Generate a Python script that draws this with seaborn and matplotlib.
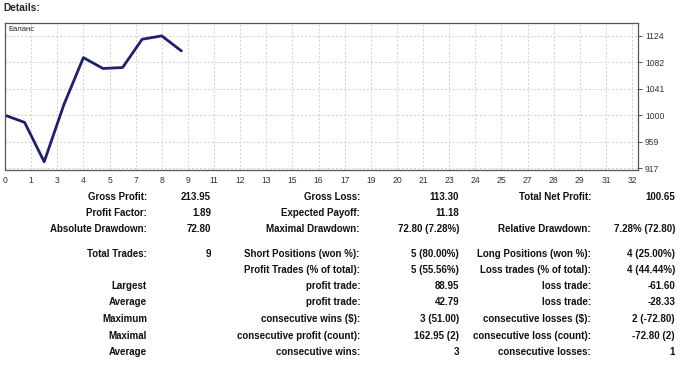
import numpy as np
import pandas as pd
import matplotlib
matplotlib.use('Agg')
import matplotlib.pyplot as plt
import seaborn as sns

# balance curve (trade number -> balance)
trades = [0, 1, 2, 3, 4, 5, 6, 7, 8, 9]
balance = [1000.00, 988.80, 927.20, 1016.15, 1090.15, 1073.15, 1074.65, 1118.95, 1124.15, 1100.65]

x_tick_labels = ['0', '1', '3', '4', '5', '7', '8', '9', '11', '12', '13', '15', '16',
                 '17', '19', '20', '21', '23', '24', '25', '27', '28', '29', '31', '32']
y_tick_labels = ['917', '959', '1000', '1041', '1082', '1124']

# report table: (label, value) for three column groups, row by row
col1_labels = ['Gross Profit:', 'Profit Factor:', 'Absolute Drawdown:', 'Total Trades:', '',
               'Largest', 'Average', 'Maximum', 'Maximal', 'Average']
col1_values = ['213.95', '1.89', '72.80', '9', '', '', '', '', '', '']
col2_labels = ['Gross Loss:', 'Expected Payoff:', 'Maximal Drawdown:', 'Short Positions (won %):',
               'Profit Trades (% of total):', 'profit trade:', 'profit trade:',
               'consecutive wins ($):', 'consecutive profit (count):', 'consecutive wins:']
col2_values = ['113.30', '11.18', '72.80 (7.28%)', '5 (80.00%)', '5 (55.56%)', '88.95', '42.79',
               '3 (51.00)', '162.95 (2)', '3']
col3_labels = ['Total Net Profit:', '', 'Relative Drawdown:', 'Long Positions (won %):',
               'Loss trades (% of total):', 'loss trade:', 'loss trade:',
               'consecutive losses ($):', 'consecutive loss (count):', 'consecutive losses:']
col3_values = ['100.65', '', '7.28% (72.80)', '4 (25.00%)', '4 (44.44%)', '-61.60', '-28.33',
               '2 (-72.80)', '-72.80 (2)', '1']
row_y = [197, 213, 229, 254, 270, 286, 302, 319, 336, 352]

sns.set_style('white')
plt.rcParams['font.family'] = ['Liberation Sans', 'DejaVu Sans']

W, H = 680, 366
fig = plt.figure(figsize=(W / 100, H / 100), dpi=100)
ax = fig.add_axes([5 / W, 1 - 170 / H, (638 - 5) / W, (170 - 22.7) / H])

df = pd.DataFrame({'trade': trades, 'balance': balance})
sns.lineplot(data=df, x='trade', y='balance', ax=ax, color='#1f1f6e', linewidth=2)

ax.set_xlim(0, 32.3)
ax.set_ylim(914.3, 1144.8)
xt = np.arange(len(x_tick_labels)) * 32 / 24
yt = np.linspace(917, 1124, len(y_tick_labels))
ax.set_xticks(xt)
ax.set_xticklabels(x_tick_labels)
ax.set_yticks(yt)
ax.set_yticklabels(y_tick_labels)
ax.yaxis.tick_right()
ax.tick_params(axis='both', labelsize=6.2, length=3, width=0.6, colors='#333333', pad=2)
ax.tick_params(axis='x', pad=1)
ax.grid(True, color='#d0d0d0', linestyle=(0, (2, 2)), linewidth=0.7)
for s in ax.spines.values():
    s.set_color('#555555')
    s.set_linewidth(0.9)
ax.set_xlabel('')
ax.set_ylabel('')
ax.text(3 / (638 - 5), 1 - 6.5 / (170 - 22.7), 'Баланс', transform=ax.transAxes,
        fontsize=5.5, va='center', ha='left', color='#222222')

fig.text(3 / W, 1 - 8 / H, 'Details:', fontsize=7.3, fontweight='bold', va='center', ha='left')

cols = [(col1_labels, 147), (col1_values, 211), (col2_labels, 360), (col2_values, 459),
        (col3_labels, 591), (col3_values, 675)]
for texts, xr in cols:
    for t, y in zip(texts, row_y):
        if t:
            fig.text(xr / W, 1 - y / H, t, fontsize=7.0, fontweight='bold', ha='right',
                     va='center', color='#111111')

fig.savefig('out.png', dpi=100)
